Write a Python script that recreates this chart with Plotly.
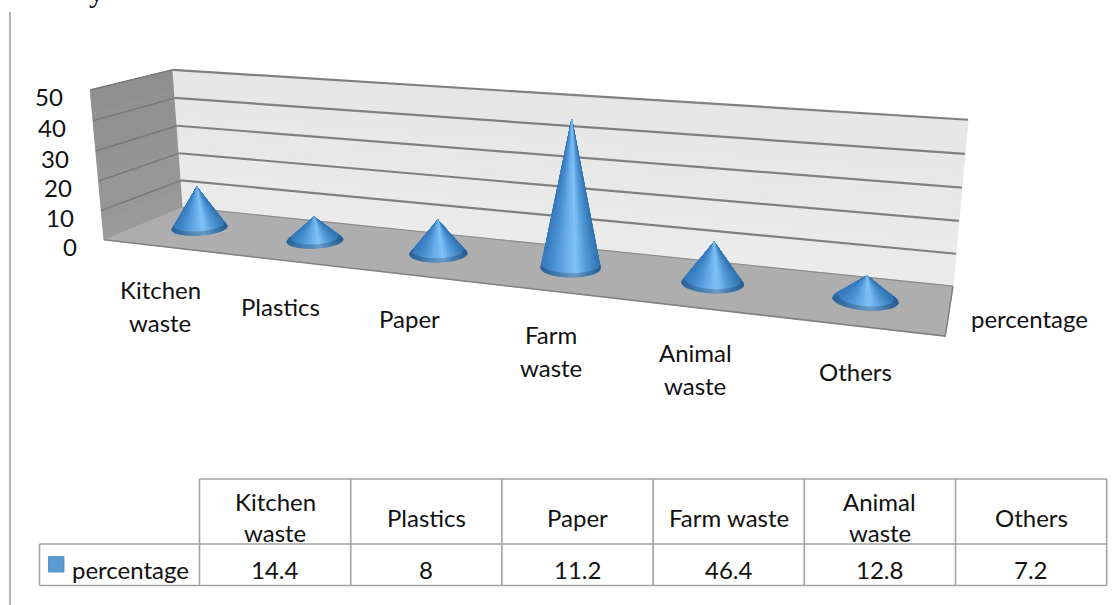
import numpy as np
import plotly.graph_objects as go

# Series
CATEGORIES = ["Kitchen\nwaste", "Plastics", "Paper", "Farm\nwaste", "Animal\nwaste", "Others"]
TABLE_HEADERS = ["Kitchen\nwaste", "Plastics", "Paper", "Farm waste", "Animal\nwaste", "Others"]
VALUES = [14.4, 8, 11.2, 46.4, 12.8, 7.2]
SERIES_NAME = "percentage"
VALUE_TICKS = [0, 10, 20, 30, 40, 50]

# Where the category labels sit below the floor
CATEGORY_LABEL_XY = [(160, 306), (280, 306), (409, 318), (551, 351), (695, 369), (855, 371)]

FONT = "Lato"
FONT_SIZE = 24
TEXT = "#111111"
CONE_RADIUS = 0.206
CONE_DEPTH = 0.52
CONE_CENTER = 0.48

# View frame: (category position, depth, value) -> screen position
FRAME = [
    (0, 0, 50, 90, 90), (0, 0, 20, 99, 180), (0, 0, 0, 104, 240),
    (0, 1, 50, 173, 70), (0, 1, 20, 179, 153), (0, 1, 0, 183, 208),
    (6, 1, 50, 968, 120), (6, 1, 20, 959, 221), (6, 1, 0, 953, 285),
    (6, 0, 0, 945, 337),
]


def solve_camera(frame):
    rows = []
    for x, d, z, u, v in frame:
        p = [x / 6, d, z / 50, 1]
        rows.append(p + [0, 0, 0, 0] + [-u / 1000 * c for c in p])
        rows.append([0, 0, 0, 0] + p + [-v / 1000 * c for c in p])
    return np.linalg.svd(np.array(rows))[2][-1].reshape(3, 4)


CAMERA = solve_camera(FRAME)


def project(x, d, z):
    """Map category position, depth and value to screen coordinates."""
    x, d, z = np.broadcast_arrays(np.asarray(x, float), np.asarray(d, float), np.asarray(z, float))
    h = np.stack([x / 6, d, z / 50, np.ones_like(x)])
    q = CAMERA @ h
    return 1000 * q[0] / q[2], 1000 * q[1] / q[2]


def mix(stops, t):
    t = float(np.clip(t, stops[0][0], stops[-1][0]))
    for (a, ca), (b, cb) in zip(stops, stops[1:]):
        if t <= b:
            f = (t - a) / (b - a) if b > a else 0
            return tuple(ca[i] + (cb[i] - ca[i]) * f for i in range(3))
    return stops[-1][1]


def rgb(c, k=1.0):
    return "rgb(%d,%d,%d)" % tuple(int(round(min(255, v * k))) for v in c)


fig = go.Figure()


def poly(px, py, color, name=None):
    fig.add_trace(go.Scatter(
        x=list(px) + [px[0]], y=list(py) + [py[0]], mode="lines", fill="toself",
        fillcolor=color, line=dict(color=color, width=0.6),
        hoverinfo="skip", showlegend=False, name=name,
    ))


def line(px, py, color, width):
    fig.add_trace(go.Scatter(
        x=list(px), y=list(py), mode="lines", line=dict(color=color, width=width),
        hoverinfo="skip", showlegend=False,
    ))


def wall(corner, top_color, bottom_color, steps=7):
    """Fill a vertical wall between two floor points with a top-to-bottom blend."""
    (x0, d0), (x1, d1) = corner
    u, v = project([x0, x1, x1, x0], [d0, d1, d1, d0], [50, 50, 0, 0])
    poly(u, v, rgb(top_color))
    zs = np.linspace(50, 0, steps + 1)
    for i in range(steps):
        f = (i + 0.5) / steps
        col = tuple(top_color[k] + (bottom_color[k] - top_color[k]) * f for k in range(3))
        u, v = project([x0, x1, x1, x0], [d0, d1, d1, d0], [zs[i], zs[i], zs[i + 1], zs[i + 1]])
        poly(u, v, rgb(col))


# Walls and floor
wall(((0, 0), (0, 1)), (142, 142, 142), (154, 154, 154))
wall(((0, 1), (6, 1)), (230, 230, 230), (235, 235, 235))
u, v = project([0, 6, 6, 0], [0, 0, 1, 1], [0, 0, 0, 0])
poly(u, v, "rgb(174,174,174)")

# Gridlines run along the left wall and the back wall
for t in VALUE_TICKS[1:]:
    u, v = project([0, 0], [0, 1], [t, t])
    line(u, v, "rgb(122,122,122)", 1.6)
    u, v = project([0, 6], [1, 1], [t, t])
    line(u, v, "rgb(128,128,128)", 2.2)

# Floor rim
u, v = project([0, 6, 6], [0, 0, 1], [0, 0, 0])
line(u, v, "rgb(130,130,130)", 1.6)
u, v = project([0, 6], [1, 1], [0, 0])
line(u, v, "rgb(140,140,140)", 1.2)

# Cones: surface strips painted from the far rim to the near rim, shaded by
# their sideways offset on screen
SHADE = [
    (-1.0, (54, 122, 188)), (-0.55, (78, 148, 213)), (0.15, (130, 195, 248)),
    (0.55, (84, 154, 217)), (1.0, (50, 116, 178)),
]
BEVEL_PX = 3.5
for i, val in enumerate(VALUES):
    cx = i + CONE_CENTER
    th = np.linspace(0, 2 * np.pi, 73)
    ru, rv = project(cx + CONE_RADIUS * np.cos(th), CONE_DEPTH + CONE_RADIUS * np.sin(th), 0 * th)
    au, av = project(cx, CONE_DEPTH, val)
    au, av = float(au), float(av)
    mid_u, half_w = (ru.max() + ru.min()) / 2, (ru.max() - ru.min()) / 2
    mid_v = (rv.max() + rv.min()) / 2
    poly(ru[:-1], rv[:-1], "rgb(52,118,180)")
    segs = sorted(range(len(th) - 1), key=lambda j: rv[j] + rv[j + 1])
    for j in segs:
        pair = [j, j + 1]
        s = ((ru[j] + ru[j + 1]) / 2 - mid_u) / half_w
        col = mix(SHADE, s)
        near = (rv[j] + rv[j + 1]) / 2 > mid_v - 2
        if near:
            frac = np.clip(1 - BEVEL_PX / np.maximum(rv[pair] - av, 1), 0.6, 1)
            mu = au + (ru[pair] - au) * frac
            mv = av + (rv[pair] - av) * frac
            poly([au, mu[0], mu[1]], [av, mv[0], mv[1]], rgb(col))
            poly([mu[0], ru[j], ru[j + 1], mu[1]], [mv[0], rv[j], rv[j + 1], mv[1]], rgb(col, 0.8))
        else:
            poly([au, ru[j], ru[j + 1]], [av, rv[j], rv[j + 1]], rgb(col))


def text(x, y, s, anchor="center", size=FONT_SIZE, family=FONT, valign="middle", color=TEXT):
    fig.add_annotation(
        x=x, y=y, text=s, showarrow=False, xanchor=anchor, yanchor=valign,
        font=dict(family=family, size=size, color=color), xref="x", yref="y", align="center",
    )


def multiline(x, y, label, spacing):
    parts = label.split("\n")
    for k, part in enumerate(parts):
        text(x, y + (k - (len(parts) - 1) / 2) * spacing, part)


# Axis text
for t in VALUE_TICKS:
    u, v = project(0, 0, t)
    text(float(u) - 25, float(v) + 7, str(t), anchor="right")
for (lx, ly), label in zip(CATEGORY_LABEL_XY, CATEGORIES):
    multiline(lx, ly, label, 33)
text(1029, 318, SERIES_NAME)

# Data table
COLUMN_EDGES = [199.5 + 151.2 * k for k in range(len(VALUES) + 1)]
TABLE_TOP, TABLE_MID, TABLE_BOTTOM = 479, 544, 585.5
TABLE_LEFT = 39.5
shapes = []
GRID = dict(color="#a3a3a3", width=1.6)


def rule(x0, y0, x1, y1, style=GRID):
    shapes.append(dict(type="line", xref="x", yref="y", x0=x0, y0=y0, x1=x1, y1=y1, line=style))


for e in COLUMN_EDGES:
    rule(e, TABLE_TOP, e, TABLE_BOTTOM)
rule(COLUMN_EDGES[0], TABLE_TOP, COLUMN_EDGES[-1], TABLE_TOP)
rule(TABLE_LEFT, TABLE_MID, COLUMN_EDGES[-1], TABLE_MID)
rule(TABLE_LEFT, TABLE_BOTTOM, COLUMN_EDGES[-1], TABLE_BOTTOM)
rule(TABLE_LEFT, TABLE_MID, TABLE_LEFT, TABLE_BOTTOM)

for k, (head, val) in enumerate(zip(TABLE_HEADERS, VALUES)):
    mid = (COLUMN_EDGES[k] + COLUMN_EDGES[k + 1]) / 2
    multiline(mid, 517, head, 31)
    text(mid, 569.5, f"{val:g}")
text(70, 569, SERIES_NAME, anchor="left")
shapes.append(dict(type="rect", xref="x", yref="y", x0=48.5, x1=64, y0=556.5, y1=572,
                   fillcolor="#5b9bd5", line=dict(color="#4a86bd", width=0.8)))

# Page margin rule and the tail of the running text above the chart
rule(10, 12, 10, 605, dict(color="#b4b4b4", width=2))
text(96, 10, "y", family="Liberation Serif", size=30, valign="bottom", color="#111111")

fig.update_layout(
    width=1120, height=605, margin=dict(l=0, r=0, t=0, b=0),
    paper_bgcolor="white", plot_bgcolor="white", showlegend=False, shapes=shapes,
    xaxis=dict(range=[0, 1120], visible=False, fixedrange=True),
    yaxis=dict(range=[605, 0], visible=False, fixedrange=True),
)
fig.write_html("out.html", config=dict(displayModeBar=False))
